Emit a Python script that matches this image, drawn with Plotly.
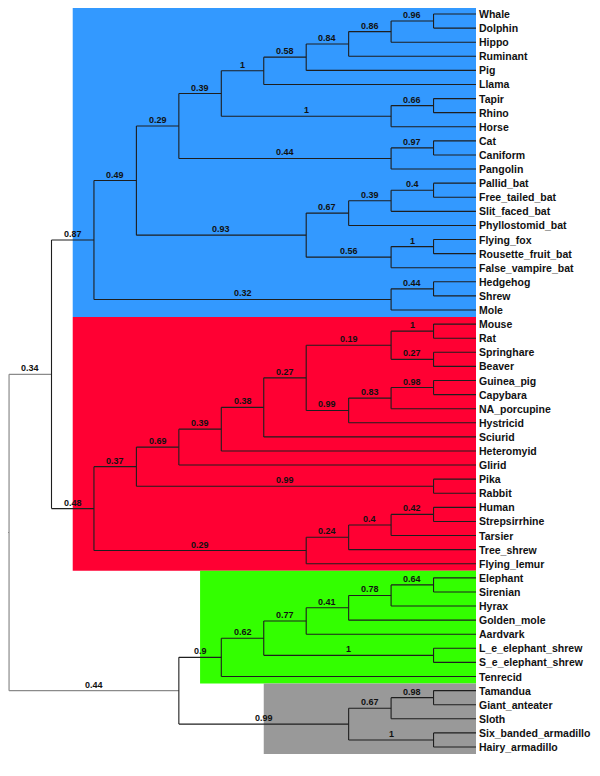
import plotly.graph_objects as go

# ---- data: tree topology (Newick) with clade support values ----
laurasiatheria = ("(((((((((Whale,Dolphin)0.96,Hippo)0.86,Ruminant)0.84,Pig)0.58,Llama)1,"
                  "((Tapir,Rhino)0.66,Horse)1)0.39,((Cat,Caniform)0.97,Pangolin)0.44)0.29,"
                  "((((Pallid_bat,Free_tailed_bat)0.4,Slit_faced_bat)0.39,Phyllostomid_bat)0.67,"
                  "((Flying_fox,Rousette_fruit_bat)1,False_vampire_bat)0.56)0.93)0.49,"
                  "((Hedgehog,Shrew)0.44,Mole)0.32)0.87")
euarchontoglires = ("((((((((Mouse,Rat)1,(Springhare,Beaver)0.27)0.19,"
                    "(((Guinea_pig,Capybara)0.98,NA_porcupine)0.83,Hystricid)0.99)0.27,Sciurid)0.38,"
                    "Heteromyid)0.39,Glirid)0.69,(Pika,Rabbit)0.99)0.37,"
                    "((((Human,Strepsirrhine)0.42,Tarsier)0.4,Tree_shrew)0.24,Flying_lemur)0.29)0.48")
afrotheria = ("((((((Elephant,Sirenian)0.64,Hyrax)0.78,Golden_mole)0.41,Aardvark)0.77,"
              "(L_e_elephant_shrew,S_e_elephant_shrew)1)0.62,Tenrecid)0.9")
xenarthra = "(((Tamandua,Giant_anteater)0.98,Sloth)0.67,(Six_banded_armadillo,Hairy_armadillo)1)0.99"
boreo_support = "0.34"
atlanto_support = "0.44"

# coloured clade boxes: (first leaf, last leaf, colour, left level)
box_first = ["Whale", "Mouse", "Elephant", "Tamandua"]
box_last = ["Mole", "Flying_lemur", "Tenrecid", "Hairy_armadillo"]
box_colors = ["#3399FF", "#FF0033", "#33FF00", "#999999"]
box_left = [-9.5, -9.5, -6.5, -5.0]

newick = ("((" + laurasiatheria + "," + euarchontoglires + ")" + boreo_support +
          ",(" + afrotheria + "," + xenarthra + ")" + atlanto_support + ")")


def parse(s):
    pos = [0]

    def node():
        children = []
        if s[pos[0]] == "(":
            pos[0] += 1
            children.append(node())
            while s[pos[0]] == ",":
                pos[0] += 1
                children.append(node())
            pos[0] += 1  # ')'
        start = pos[0]
        while pos[0] < len(s) and s[pos[0]] not in ",()":
            pos[0] += 1
        name = s[start:pos[0]]
        return {"name": name, "children": children}
    return node()


root = parse(newick)

leaves = []


def layout(n):
    if not n["children"]:
        n["y"] = len(leaves)
        leaves.append(n)
        n["h"] = 0
    else:
        for c in n["children"]:
            layout(c)
        n["h"] = max(c["h"] for c in n["children"]) + 1
        n["y"] = (n["children"][0]["y"] + n["children"][-1]["y"]) / 2
    n["x"] = -n["h"]


layout(root)

xs_dark, ys_dark, xs_grey, ys_grey = [], [], [], []
annotations = []


def draw(n, depth):
    if not n["children"]:
        return
    grey = depth == 0
    tx, ty = (xs_grey, ys_grey) if grey else (xs_dark, ys_dark)
    tx += [n["x"], n["x"], None]
    ty += [n["children"][0]["y"], n["children"][-1]["y"], None]
    for c in n["children"]:
        tx += [n["x"], c["x"], None]
        ty += [c["y"], c["y"], None]
        if c["children"] and c["name"]:
            annotations.append(dict(x=(n["x"] + c["x"]) / 2, y=c["y"], text="<b>" + c["name"] + "</b>",
                                    showarrow=False, xanchor="center", yanchor="bottom", yshift=-1,
                                    font=dict(family="Arial, Liberation Sans", size=9, color="#111")))
        draw(c, depth + 1)


draw(root, 0)
# root stub
xs_grey += [root["x"] - 0.14, root["x"], None]
ys_grey += [root["y"], root["y"], None]

for lf in leaves:
    annotations.append(dict(x=0, y=lf["y"], text="<b>" + lf["name"] + "</b>", showarrow=False,
                            xanchor="left", yanchor="middle", xshift=1,
                            font=dict(family="Arial, Liberation Sans", size=10.5, color="#111")))

idx = {lf["name"]: lf["y"] for lf in leaves}
shapes = []
for f, l, col, x0 in zip(box_first, box_last, box_colors, box_left):
    shapes.append(dict(type="rect", xref="x", yref="y", x0=x0, x1=0, y0=idx[f] - 0.5, y1=idx[l] + 0.5,
                       fillcolor=col, line=dict(width=0), layer="below"))

fig = go.Figure()
fig.add_trace(go.Scatter(x=xs_grey, y=ys_grey, mode="lines", line=dict(color="#8a8a8a", width=1.2),
                         hoverinfo="skip", showlegend=False))
fig.add_trace(go.Scatter(x=xs_dark, y=ys_dark, mode="lines", line=dict(color="#1e1e1e", width=1.1),
                         hoverinfo="skip", showlegend=False))

W, H = 584, 760
px_per_x = 42.45
px_per_y = 14.096
x_leaf_px = 468
y_first_px = 6
fig.update_layout(
    width=W, height=H, autosize=False,
    margin=dict(l=0, r=0, t=0, b=0),
    paper_bgcolor="white", plot_bgcolor="white",
    xaxis=dict(range=[-x_leaf_px / px_per_x, (W - x_leaf_px) / px_per_x], visible=False, fixedrange=True),
    yaxis=dict(range=[(H - y_first_px) / px_per_y, -y_first_px / px_per_y], visible=False, fixedrange=True),
    shapes=shapes, annotations=annotations,
)
fig.write_html("out.html")
